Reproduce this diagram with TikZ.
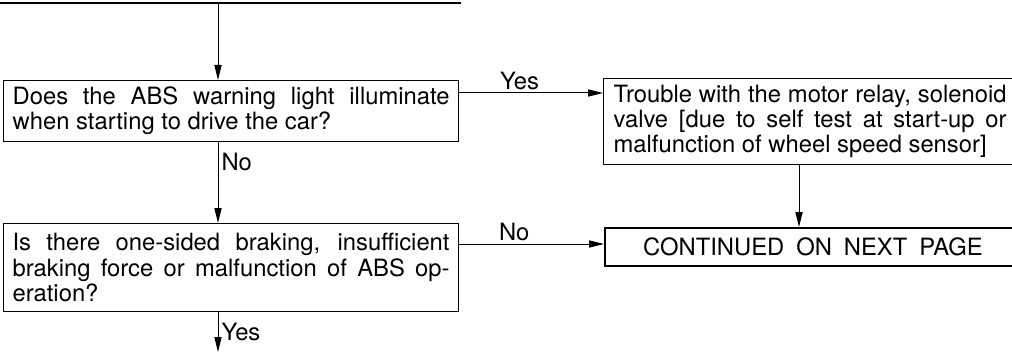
\documentclass[tikz,border=0pt]{standalone}
\usepackage{fontspec}
\setmainfont{TeX Gyre Heros}
\usetikzlibrary{arrows.meta}

\begin{document}
\begin{tikzpicture}[x=0.5pt,y=-0.5pt,
  qbox/.style={rectangle,draw,line width=0.6pt,anchor=north west,align=justify,
               text width=218.5pt,inner xsep=4.5pt,inner ysep=2pt,
               font=\fontsize{11.9}{12.6}\selectfont},
  rbox/.style={qbox,text width=196.5pt,inner xsep=5pt},
  endbox/.style={rectangle,draw,line width=0.9pt,anchor=north west,
                 minimum width=208pt,minimum height=19pt,font=\fontsize{11.9}{12.6}\selectfont},
  flow/.style={-{Triangle[length=7.5pt,width=3.6pt]},line width=0.5pt},
  lbl/.style={font=\fontsize{11.9}{12.6}\selectfont,inner sep=1.5pt}
]
  \useasboundingbox (0,0) rectangle (1012,353);
  \clip (0,0) rectangle (1012,353);

  \coordinate (topL)  at (0,3);
  \coordinate (topR)  at (461,3);
  \coordinate (entry) at (218,3);
  \coordinate (exit)  at (218,352);

  \node[qbox,minimum height=30.5pt] (warn) at (3,80)
    {Does the ABS warning light illuminate\linebreak when starting to drive the car?};
  \node[rbox,minimum height=43pt] (relay) at (603,78)
    {Trouble with the motor relay, solenoid\linebreak valve [due to self test at start-up or\linebreak malfunction of wheel speed sensor]};
  \node[qbox,minimum height=44pt] (brake) at (3,223)
    {Is there one-sided braking, insufficient\linebreak braking force or malfunction of ABS op-\linebreak eration?};
  \node[endbox] (cont) at (604,227) {CONTINUED\enspace ON\enspace NEXT\enspace PAGE};

  \draw[line width=1.4pt] (topL) -- (topR);
  \draw[flow] (entry) -- (entry |- warn.north);
  \draw[flow] (warn.east |- 0,93) -- (relay.west |- 0,93)
    node[lbl,above,pos=0.42] (yes1) {Yes};
  \draw[flow] (warn.south -| entry) -- (entry |- brake.north)
    node[lbl,right,pos=0.25] (no1) {No};
  \draw[flow] (relay.south -| 799,0) -- (cont.north -| 799,0);
  \draw[flow] (brake.east |- 0,244) -- (cont.west |- 0,244)
    node[lbl,above,pos=0.38] (no2) {No};
  \draw[flow] (brake.south -| entry) -- (exit)
    node[lbl,right,midway] (yes2) {Yes};
\end{tikzpicture}
\end{document}
